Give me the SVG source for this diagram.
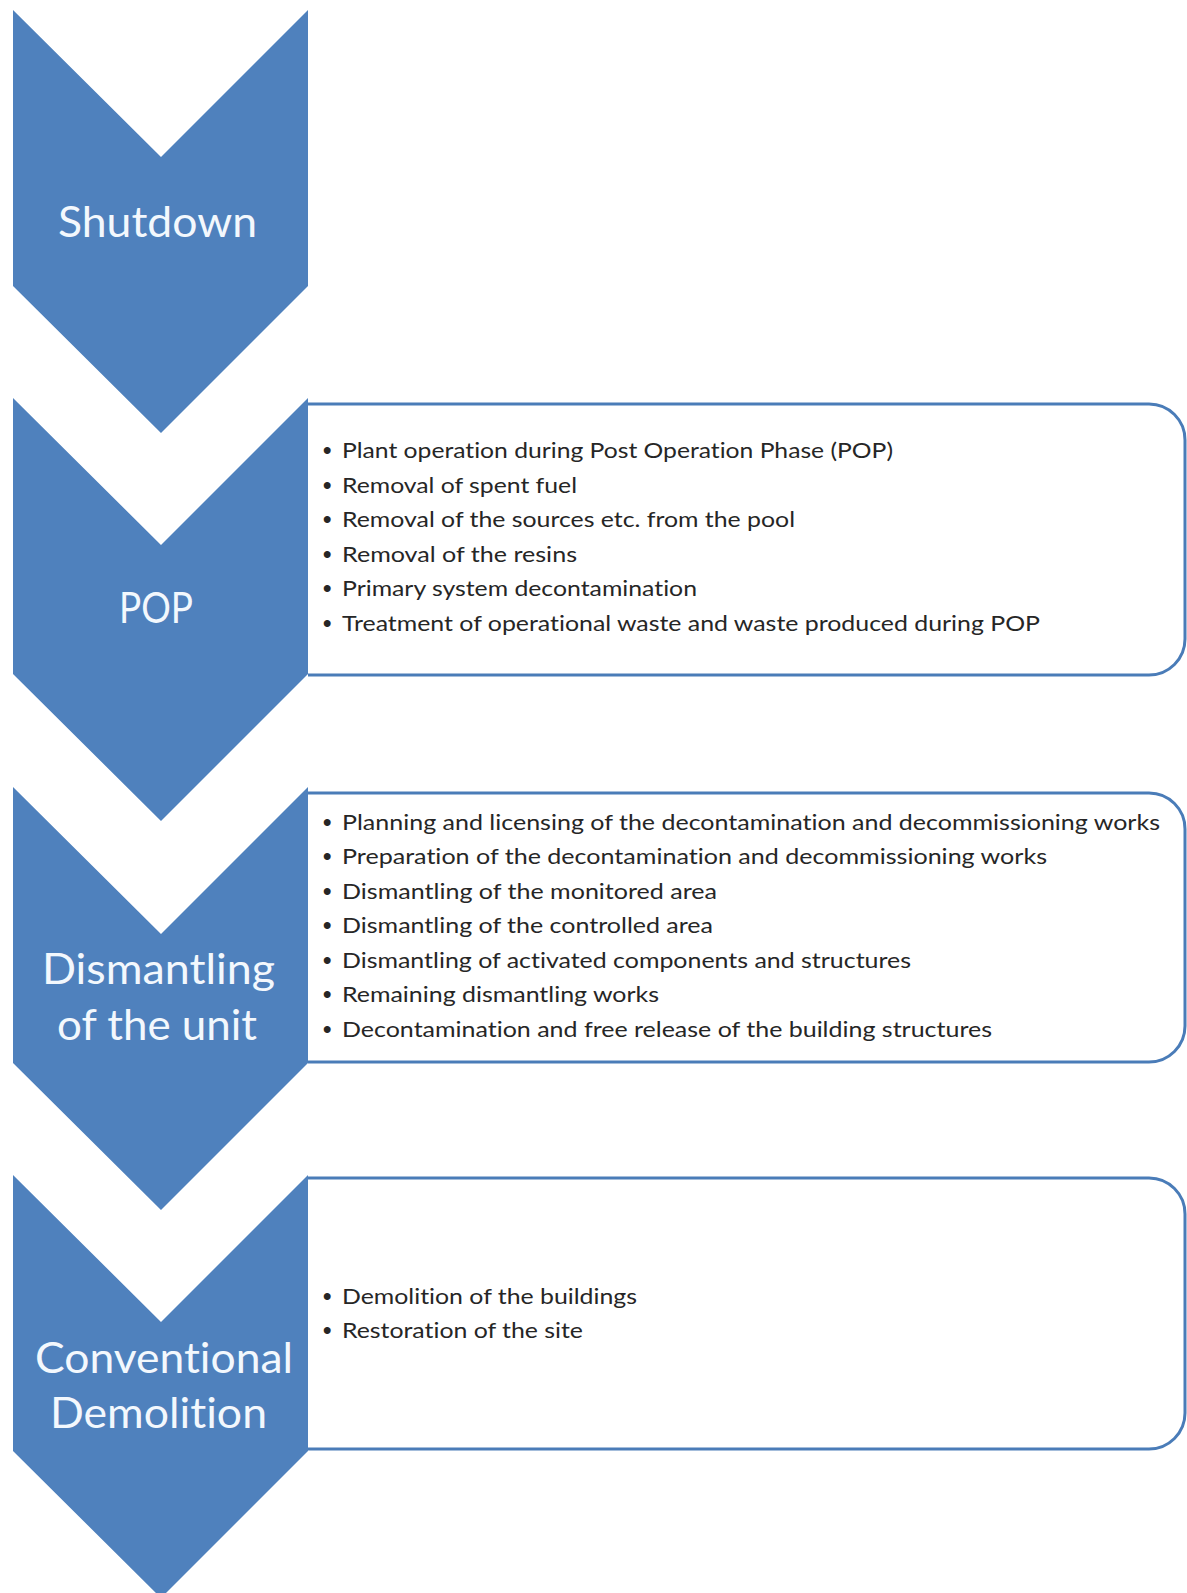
<svg xmlns="http://www.w3.org/2000/svg" width="1187" height="1593" viewBox="0 0 1187 1593">
  <style>
    .chev { fill: #4f81bd; }
    .box { fill: #ffffff; stroke: #4a7cb8; stroke-width: 3; }
    .label { font-family: Lato, "Open Sans", "Liberation Sans", sans-serif; font-size: 42px; fill: #f3f8fd; font-variant-ligatures: none; }
    .item { font-family: Lato, "Open Sans", "Liberation Sans", sans-serif; font-size: 21px; fill: #262626; font-variant-ligatures: none; }
    .dot { font-family: "Liberation Sans", sans-serif; font-size: 24px; font-weight: bold; fill: #262626; }
  </style>
  <rect width="1187" height="1593" fill="#ffffff"/>

  <!-- task boxes (drawn first so the chevrons cover their left edges) -->
  <g id="pop-tasks">
    <path class="box" d="M308,404 H1149 A36,36 0 0 1 1185,440 V639 A36,36 0 0 1 1149,675 H308"/>
    <text class="dot" x="323" y="458">•</text>
    <text class="item" x="342" y="458" textLength="551" lengthAdjust="spacingAndGlyphs">Plant operation during Post Operation Phase (POP)</text>
    <text class="dot" x="323" y="492.5">•</text>
    <text class="item" x="342" y="492.5" textLength="235" lengthAdjust="spacingAndGlyphs">Removal of spent fuel</text>
    <text class="dot" x="323" y="527">•</text>
    <text class="item" x="342" y="527" textLength="453" lengthAdjust="spacingAndGlyphs">Removal of the sources etc. from the pool</text>
    <text class="dot" x="323" y="561.5">•</text>
    <text class="item" x="342" y="561.5" textLength="235" lengthAdjust="spacingAndGlyphs">Removal of the resins</text>
    <text class="dot" x="323" y="596">•</text>
    <text class="item" x="342" y="596" textLength="355" lengthAdjust="spacingAndGlyphs">Primary system decontamination</text>
    <text class="dot" x="323" y="630.5">•</text>
    <text class="item" x="342" y="630.5" textLength="698" lengthAdjust="spacingAndGlyphs">Treatment of operational waste and waste produced during POP</text>
  </g>

  <g id="dismantling-tasks">
    <path class="box" d="M308,793 H1149 A36,36 0 0 1 1185,829 V1026 A36,36 0 0 1 1149,1062 H308"/>
    <text class="dot" x="323" y="829.5">•</text>
    <text class="item" x="342" y="829.5" textLength="818" lengthAdjust="spacingAndGlyphs">Planning and licensing of the decontamination and decommissioning works</text>
    <text class="dot" x="323" y="864">•</text>
    <text class="item" x="342" y="864" textLength="705" lengthAdjust="spacingAndGlyphs">Preparation of the decontamination and decommissioning works</text>
    <text class="dot" x="323" y="898.5">•</text>
    <text class="item" x="342" y="898.5" textLength="375" lengthAdjust="spacingAndGlyphs">Dismantling of the monitored area</text>
    <text class="dot" x="323" y="933">•</text>
    <text class="item" x="342" y="933" textLength="371" lengthAdjust="spacingAndGlyphs">Dismantling of the controlled area</text>
    <text class="dot" x="323" y="967.5">•</text>
    <text class="item" x="342" y="967.5" textLength="569" lengthAdjust="spacingAndGlyphs">Dismantling of activated components and structures</text>
    <text class="dot" x="323" y="1002">•</text>
    <text class="item" x="342" y="1002" textLength="317" lengthAdjust="spacingAndGlyphs">Remaining dismantling works</text>
    <text class="dot" x="323" y="1036.5">•</text>
    <text class="item" x="342" y="1036.5" textLength="650" lengthAdjust="spacingAndGlyphs">Decontamination and free release of the building structures</text>
  </g>

  <g id="demolition-tasks">
    <path class="box" d="M308,1178 H1149 A36,36 0 0 1 1185,1214 V1413 A36,36 0 0 1 1149,1449 H308"/>
    <text class="dot" x="323" y="1303.5">•</text>
    <text class="item" x="342" y="1303.5" textLength="295" lengthAdjust="spacingAndGlyphs">Demolition of the buildings</text>
    <text class="dot" x="323" y="1338">•</text>
    <text class="item" x="342" y="1338" textLength="241" lengthAdjust="spacingAndGlyphs">Restoration of the site</text>
  </g>

  <!-- phase chevrons -->
  <g id="stage-shutdown">
    <path class="chev" d="M13,10 L161,157 L308,10 V286 L161,433 L13,286 Z"/>
    <text class="label" x="58" y="237" textLength="199" lengthAdjust="spacingAndGlyphs">Shutdown</text>
  </g>

  <g id="stage-pop">
    <path class="chev" d="M13,398 L161,545 L308,398 V674 L161,821 L13,674 Z"/>
    <text class="label" x="119" y="623" textLength="74" lengthAdjust="spacingAndGlyphs">POP</text>
  </g>

  <g id="stage-dismantling">
    <path class="chev" d="M13,787 L161,934 L308,787 V1063 L161,1210 L13,1063 Z"/>
    <text class="label" x="42" y="984" textLength="233" lengthAdjust="spacingAndGlyphs">Dismantling</text>
    <text class="label" x="57" y="1040" textLength="200" lengthAdjust="spacingAndGlyphs">of the unit</text>
  </g>

  <g id="stage-demolition">
    <path class="chev" d="M13,1175 L161,1322 L308,1175 V1451 L161,1598 L13,1451 Z"/>
    <text class="label" x="35" y="1373" textLength="258" lengthAdjust="spacingAndGlyphs">Conventional</text>
    <text class="label" x="50" y="1428" textLength="217" lengthAdjust="spacingAndGlyphs">Demolition</text>
  </g>
</svg>
